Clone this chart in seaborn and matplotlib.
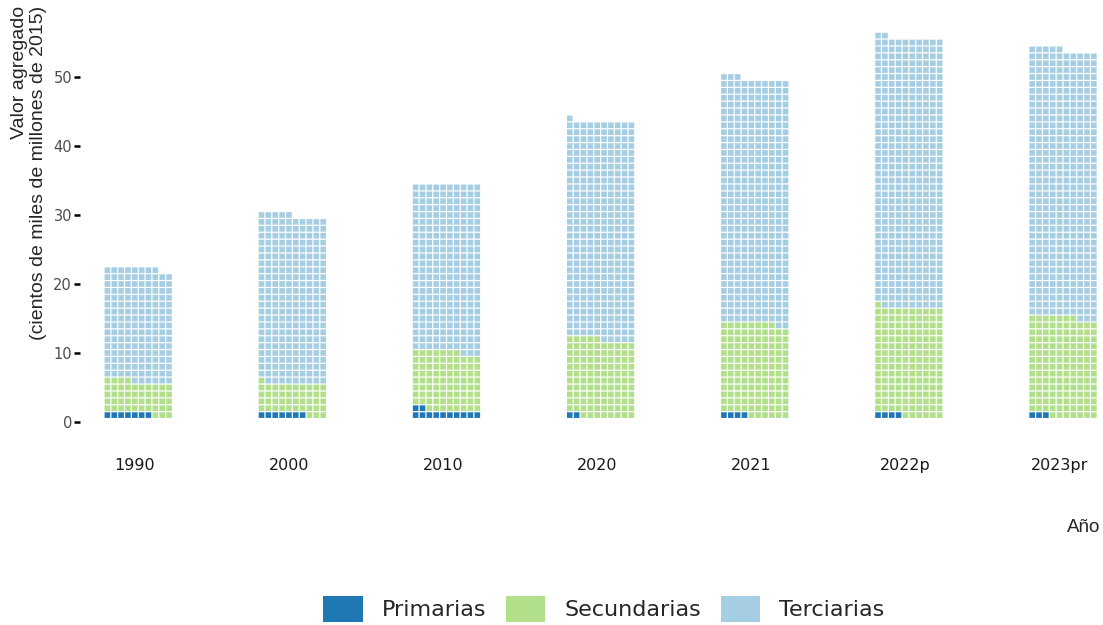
import seaborn as sns
import pandas as pd
import matplotlib.pyplot as plt

# valor agregado por sector (cientos de miles de millones de 2015)
years = ["1990", "2000", "2010", "2020", "2021", "2022p", "2023pr"]
primarias = [0.7, 0.7, 1.2, 0.2, 0.4, 0.4, 0.3]
secundarias = [4.7, 4.4, 8.5, 11.3, 13.4, 15.7, 14.4]
terciarias = [16.4, 24.4, 24.3, 31.6, 35.5, 39.1, 38.8]
sectors = ["Primarias", "Secundarias", "Terciarias"]

sns.set_style("white")
plt.rcParams["font.family"] = ["DejaVu Sans"]
pal = sns.color_palette("Paired")
colors = {"Primarias": pal[1], "Secundarias": pal[2], "Terciarias": pal[0]}

# one tile per 0.1 units, 10 tiles per row, filled from bottom left
rows = []
for j, year in enumerate(years):
    i = 0
    for name, vals in zip(sectors, [primarias, secundarias, terciarias]):
        for k in range(int(round(vals[j] * 10))):
            rows.append([year, j * 22.5 + i % 10 + 1, i // 10 + 1, name])
            i += 1
df = pd.DataFrame(rows, columns=["year", "x", "y", "sector"])

fig = plt.figure(figsize=(11.03, 6.25), dpi=100)
ax = fig.add_axes([80 / 1103, (625 - 430.28) / 625, 1023 / 1103, 410.55 / 625])

tile = 0.82
for name in sectors:
    d = df[df.sector == name]
    ax.bar(d.x, tile, bottom=d.y - tile / 2, width=tile, color=colors[name],
           linewidth=0, label=name, snap=False)

ax.set_xlim(-3.0, 146.34)
ax.set_ylim(-1.2, 58.3)
for s in ax.spines.values():
    s.set_visible(False)

ax.set_yticks(range(0, 51, 10))
ax.set_xticks([j * 22.5 + 5 for j in range(len(years))])
ax.set_xticklabels(years)
ax.tick_params(axis="y", left=True, length=4.3, width=1.8, color="black",
               labelcolor="#4D4D4D", labelsize=10.5, pad=1.5)
ax.tick_params(axis="x", bottom=False, length=0, labelcolor="#1A1A1A",
               labelsize=11.5, pad=20)

fig.text(29 / 1103, 1 - 6 / 625,
         "Valor agregado\n(cientos de miles de millones de 2015)",
         rotation=90, ha="center", va="top", multialignment="right",
         fontsize=14, family=["Liberation Sans"], linespacing=1.12)
fig.text(1100 / 1103, 1 - 527 / 625, "Año", ha="right", va="center",
         fontsize=13.5, family=["Liberation Sans"])

fig.legend(loc="center", bbox_to_anchor=(604 / 1103, 1 - 609 / 625), ncol=3,
           frameon=False, fontsize=16, handlelength=1.76, handleheight=1.44,
           handletextpad=0.86, columnspacing=0.9, borderpad=0)

fig.savefig("out.png", dpi=100)
